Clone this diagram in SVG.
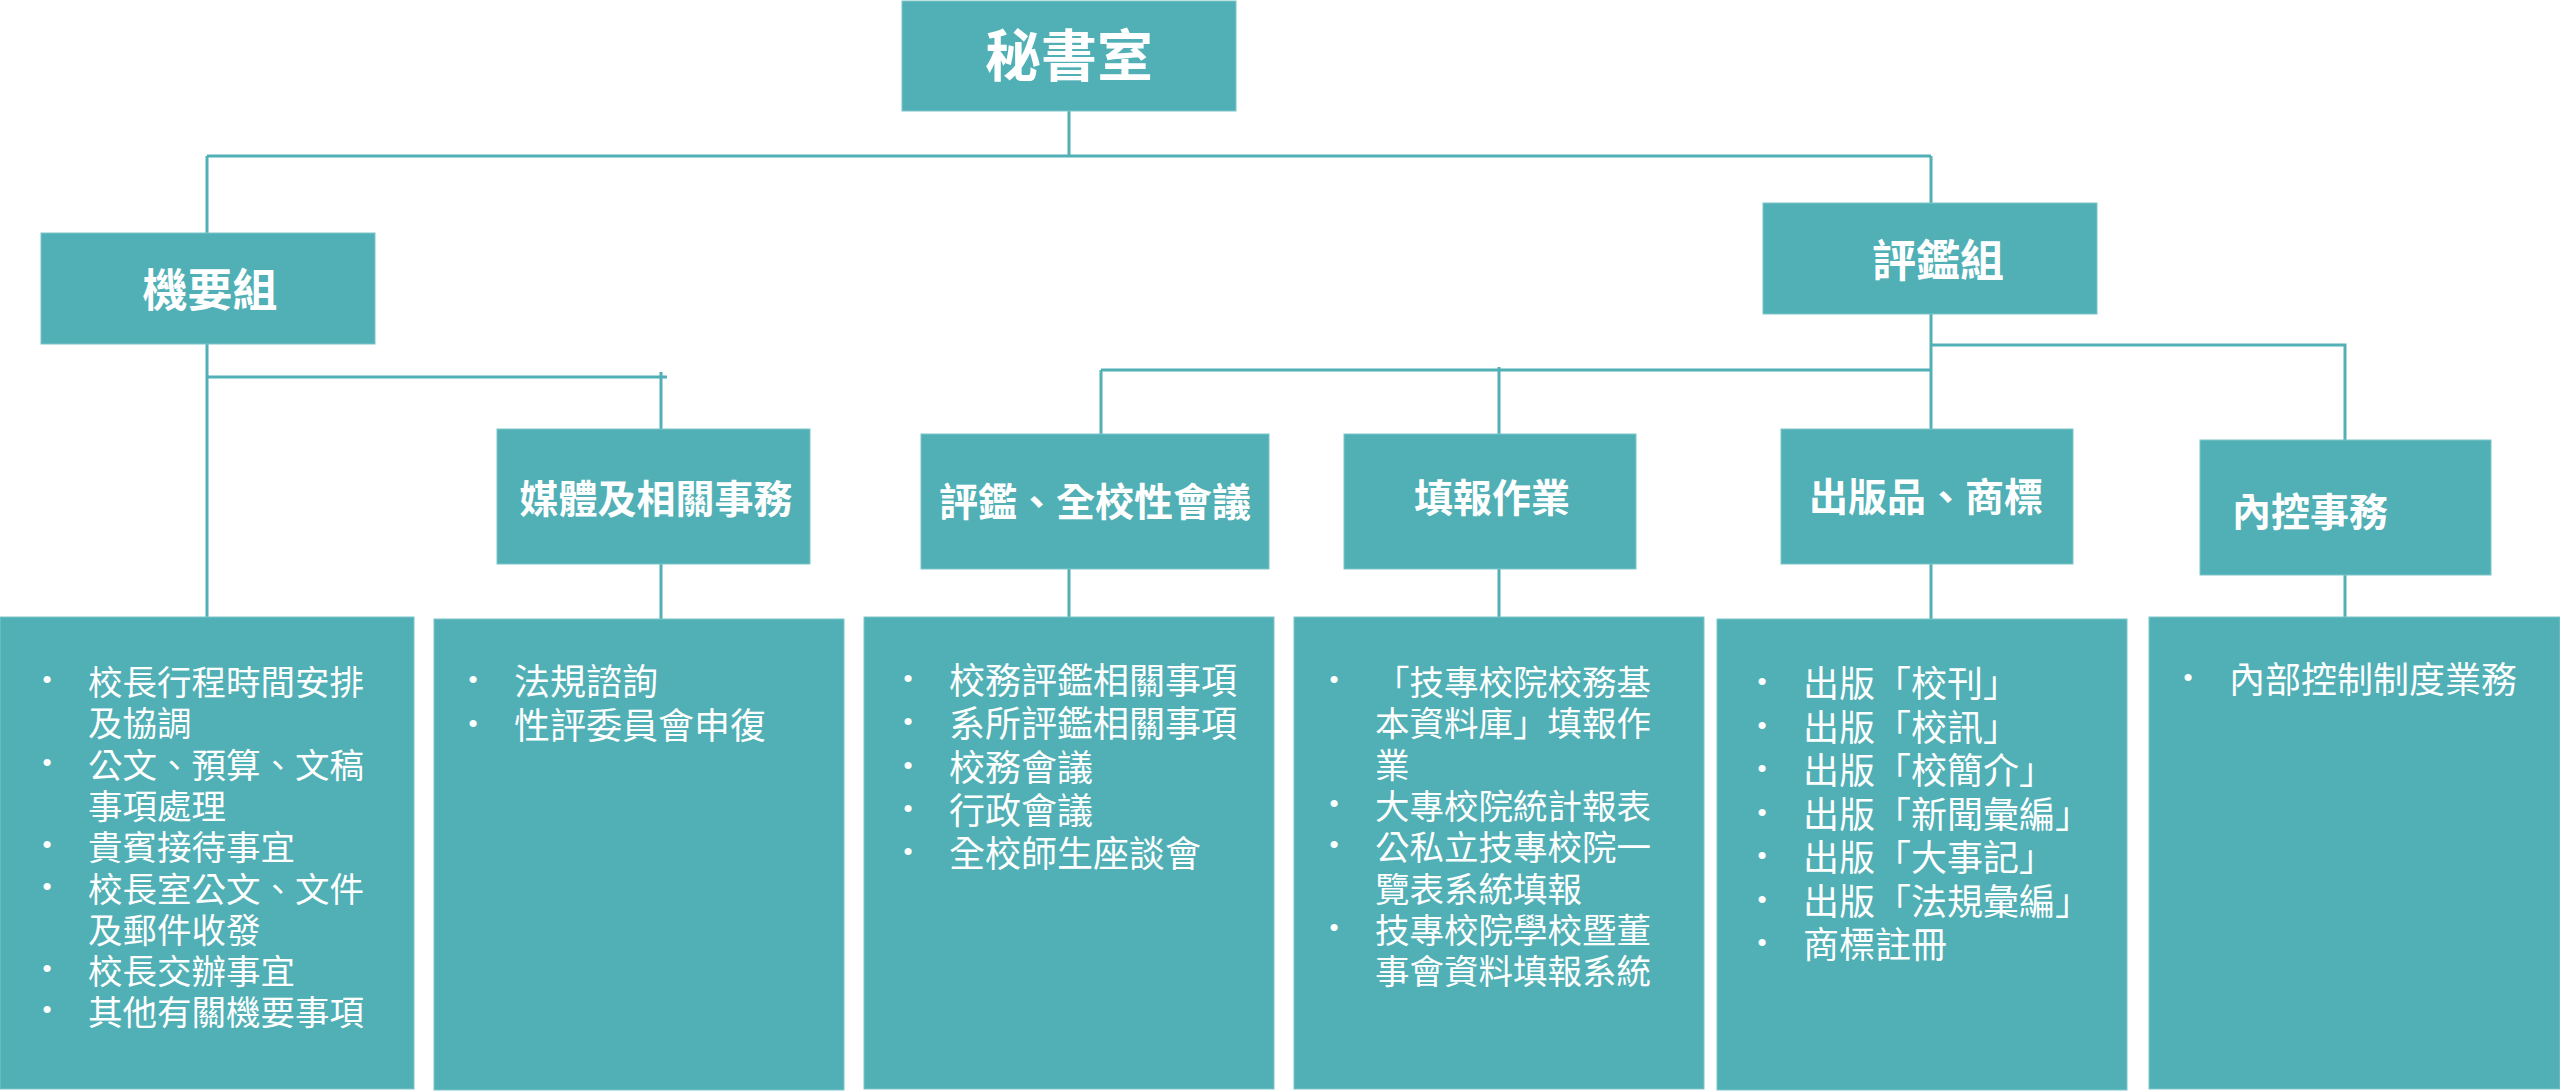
<svg xmlns="http://www.w3.org/2000/svg" width="2560" height="1092" viewBox="0 0 2560 1092">
<style>
.box{fill:#50B0B5;stroke:#7CC6CA;stroke-width:1}
.conn{stroke:#50B0B5;stroke-width:3;fill:none}
.title{font-family:"Noto Sans CJK TC","Noto Sans CJK SC",sans-serif;font-weight:700;fill:#FFFFFF;text-anchor:middle}
.item{font-family:"Noto Sans CJK TC","Noto Sans CJK SC",sans-serif;fill:#FFFFFF}
.s1{font-size:34.5px}
.s2{font-size:36px}
.bul{font-family:"Liberation Sans",Arial,sans-serif;font-size:26px;fill:#FFFFFF;text-anchor:middle}
</style>
<rect width="2560" height="1092" fill="#FFFFFF"/>
<g id="connectors">
<path class="conn" d="M1069 111V156M207 156H1931M207 156V233M1931 156V203"/>
<path class="conn" d="M207 344V617M207 377H667M661 372V429M661 564V619"/>
<path class="conn" d="M1931 314V429M1101 370H1931M1101 370V434M1499 367V434M1931 345H2345V440"/>
<path class="conn" d="M1069 569V617M1499 569V617M1931 564V619M2345 575V617"/>
</g>
<g id="n-mishu"><rect class="box" x="902" y="1" width="334" height="110"/><text class="title" x="1069" y="76" font-size="56">秘書室</text></g>
<g id="n-jiyao"><rect class="box" x="41" y="233" width="334" height="111"/><text class="title" x="210" y="307" font-size="45">機要組</text></g>
<g id="n-pingjian"><rect class="box" x="1763" y="203" width="334" height="111"/><text class="title" x="1938" y="277" font-size="44">評鑑組</text></g>
<g id="n-media"><rect class="box" x="497" y="429" width="313" height="135"/><text class="title" x="656" y="513" font-size="39">媒體及相關事務</text></g>
<g id="n-meeting"><rect class="box" x="921" y="434" width="348" height="135"/><text class="title" x="1095" y="516" font-size="39">評鑑、全校性會議</text></g>
<g id="n-report"><rect class="box" x="1344" y="434" width="292" height="135"/><text class="title" x="1492" y="512" font-size="39">填報作業</text></g>
<g id="n-publish"><rect class="box" x="1781" y="429" width="292" height="135"/><text class="title" x="1926" y="511" font-size="39">出版品、商標</text></g>
<g id="n-control"><rect class="box" x="2200" y="440" width="291" height="135"/><text class="title" x="2310" y="526" font-size="39">內控事務</text></g>
<g id="n-list1"><rect class="box" x="0" y="617" width="414" height="472"/>
<text class="item s1" x="88"><tspan x="88" y="695">校長行程時間安排</tspan><tspan x="88" y="736.3">及協調</tspan><tspan x="88" y="777.6">公文、預算、文稿</tspan><tspan x="88" y="818.9">事項處理</tspan><tspan x="88" y="860.2">貴賓接待事宜</tspan><tspan x="88" y="901.5">校長室公文、文件</tspan><tspan x="88" y="942.8">及郵件收發</tspan><tspan x="88" y="984.1">校長交辦事宜</tspan><tspan x="88" y="1025.4">其他有關機要事項</tspan></text>
<text class="bul"><tspan x="47" y="688">•</tspan><tspan x="47" y="770.6">•</tspan><tspan x="47" y="853.2">•</tspan><tspan x="47" y="894.5">•</tspan><tspan x="47" y="977.1">•</tspan><tspan x="47" y="1018.4">•</tspan></text></g>
<g id="n-list2"><rect class="box" x="434" y="619" width="410" height="471"/>
<text class="item s2"><tspan x="514" y="695">法規諮詢</tspan><tspan x="514" y="738.5">性評委員會申復</tspan></text>
<text class="bul"><tspan x="473" y="688">•</tspan><tspan x="473" y="731.5">•</tspan></text></g>
<g id="n-list3"><rect class="box" x="864" y="617" width="410" height="472"/>
<text class="item s2"><tspan x="949" y="694">校務評鑑相關事項</tspan><tspan x="949" y="737.3">系所評鑑相關事項</tspan><tspan x="949" y="780.6">校務會議</tspan><tspan x="949" y="824">行政會議</tspan><tspan x="949" y="867.3">全校師生座談會</tspan></text>
<text class="bul"><tspan x="908" y="687">•</tspan><tspan x="908" y="730.3">•</tspan><tspan x="908" y="773.6">•</tspan><tspan x="908" y="817">•</tspan><tspan x="908" y="860.3">•</tspan></text></g>
<g id="n-list4"><rect class="box" x="1294" y="617" width="410" height="472"/>
<text class="item s1"><tspan x="1375" y="695">「技專校院校務基</tspan><tspan x="1375" y="736.3">本資料庫」填報作</tspan><tspan x="1375" y="777.6">業</tspan><tspan x="1375" y="818.9">大專校院統計報表</tspan><tspan x="1375" y="860.2">公私立技專校院一</tspan><tspan x="1375" y="901.5">覽表系統填報</tspan><tspan x="1375" y="942.8">技專校院學校暨董</tspan><tspan x="1375" y="984.1">事會資料填報系統</tspan></text>
<text class="bul"><tspan x="1334" y="688">•</tspan><tspan x="1334" y="811.9">•</tspan><tspan x="1334" y="853.2">•</tspan><tspan x="1334" y="935.8">•</tspan></text></g>
<g id="n-list5"><rect class="box" x="1717" y="619" width="410" height="471"/>
<text class="item s2"><tspan x="1803" y="697">出版「校刊」</tspan><tspan x="1803" y="740.5">出版「校訊」</tspan><tspan x="1803" y="784">出版「校簡介」</tspan><tspan x="1803" y="827.5">出版「新聞彙編」</tspan><tspan x="1803" y="871">出版「大事記」</tspan><tspan x="1803" y="914.5">出版「法規彙編」</tspan><tspan x="1803" y="958">商標註冊</tspan></text>
<text class="bul"><tspan x="1762" y="690">•</tspan><tspan x="1762" y="733.5">•</tspan><tspan x="1762" y="777">•</tspan><tspan x="1762" y="820.5">•</tspan><tspan x="1762" y="864">•</tspan><tspan x="1762" y="907.5">•</tspan><tspan x="1762" y="951">•</tspan></text></g>
<g id="n-list6"><rect class="box" x="2149" y="617" width="411" height="472"/>
<text class="item s2"><tspan x="2229" y="693">內部控制制度業務</tspan></text>
<text class="bul"><tspan x="2188" y="686">•</tspan></text></g>
</svg>
